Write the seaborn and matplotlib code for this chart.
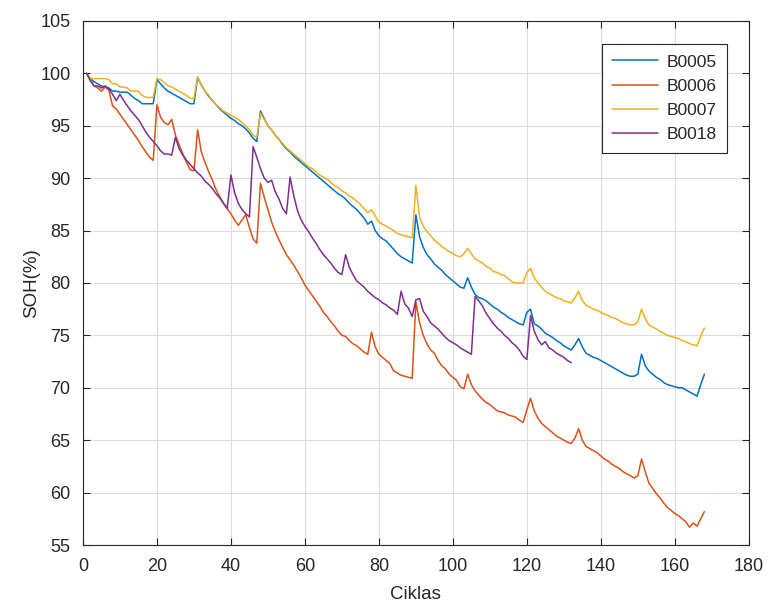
import numpy as np
import pandas as pd
import matplotlib
matplotlib.use("Agg")
import matplotlib.pyplot as plt
import seaborn as sns

# State of health (%) per charge/discharge cycle for four Li-ion cells
soh_b0005 = [
    100.0, 99.5, 99.2, 99.0, 98.8, 98.7, 98.6, 98.3, 98.3, 98.2,
    98.2, 98.2, 97.9, 97.6, 97.4, 97.1, 97.1, 97.1, 97.1, 99.4,
    99.0, 98.6, 98.3, 98.1, 97.9, 97.7, 97.5, 97.3, 97.1, 97.1,
    99.6, 98.9, 98.3, 97.8, 97.4, 97.0, 96.6, 96.3, 96.0, 95.7,
    95.5, 95.2, 95.0, 94.7, 94.3, 93.8, 93.5, 96.4, 95.7, 95.0,
    94.6, 94.1, 93.7, 93.2, 92.8, 92.5, 92.1, 91.8, 91.5, 91.2,
    90.9, 90.6, 90.3, 90.0, 89.7, 89.4, 89.1, 88.8, 88.5, 88.3,
    88.0, 87.6, 87.3, 87.0, 86.6, 86.2, 85.6, 85.9, 85.0, 84.5,
    84.2, 84.0, 83.6, 83.2, 82.8, 82.5, 82.3, 82.1, 81.9, 86.5,
    84.4, 83.4, 82.7, 82.3, 81.8, 81.5, 81.2, 80.8, 80.5, 80.2,
    79.9, 79.6, 79.5, 80.5, 79.6, 78.9, 78.6, 78.5, 78.3, 78.0,
    77.7, 77.5, 77.2, 77.0, 76.7, 76.5, 76.3, 76.1, 76.0, 77.2,
    77.5, 76.1, 75.9, 75.6, 75.2, 75.0, 74.8, 74.5, 74.3, 74.0,
    73.8, 73.6, 74.1, 74.7, 73.9, 73.3, 73.1, 72.9, 72.8, 72.6,
    72.4, 72.2, 72.0, 71.8, 71.6, 71.4, 71.2, 71.1, 71.1, 71.3,
    73.2, 72.1, 71.6, 71.3, 71.0, 70.8, 70.5, 70.3, 70.2, 70.1,
    70.0, 70.0, 69.8, 69.6, 69.4, 69.2, 70.3, 71.3,
]

soh_b0006 = [
    100.0, 99.4, 98.8, 98.6, 98.3, 98.7, 98.4, 96.9, 96.6, 96.1,
    95.6, 95.1, 94.6, 94.1, 93.6, 93.0, 92.5, 92.0, 91.7, 97.0,
    95.8, 95.3, 95.1, 95.6, 94.1, 93.2, 92.3, 91.5, 90.8, 90.7,
    94.6, 92.5, 91.5, 90.6, 89.8, 88.9, 88.2, 87.6, 87.1, 86.6,
    86.0, 85.5, 86.0, 86.5, 85.3, 84.2, 83.8, 89.5, 88.2, 87.0,
    85.8, 84.9, 84.1, 83.4, 82.7, 82.2, 81.7, 81.1, 80.5, 79.8,
    79.3, 78.8, 78.3, 77.8, 77.2, 76.8, 76.3, 75.9, 75.4, 75.0,
    74.9, 74.5, 74.2, 74.0, 73.7, 73.4, 73.2, 75.3, 73.9, 73.2,
    72.9, 72.6, 72.3, 71.6, 71.4, 71.2, 71.1, 71.0, 70.9, 78.2,
    76.2, 75.0, 74.2, 73.6, 73.3, 72.6, 72.1, 71.8, 71.3, 71.0,
    70.7, 70.1, 69.9, 71.3, 70.3, 69.7, 69.3, 68.9, 68.6, 68.4,
    68.1, 67.8, 67.7, 67.6, 67.4, 67.3, 67.2, 66.9, 66.7, 67.9,
    69.0, 67.8, 67.1, 66.6, 66.3, 66.0, 65.7, 65.4, 65.2, 65.0,
    64.8, 64.7, 65.2, 66.1, 65.0, 64.4, 64.2, 64.0, 63.8, 63.5,
    63.2, 63.0, 62.7, 62.5, 62.3, 62.0, 61.8, 61.6, 61.4, 61.6,
    63.2, 62.0, 60.9, 60.4, 59.9, 59.5, 59.0, 58.6, 58.3, 58.0,
    57.8, 57.5, 57.2, 56.7, 57.1, 56.8, 57.5, 58.2,
]

soh_b0007 = [
    100.0, 99.5, 99.5, 99.5, 99.5, 99.5, 99.4, 99.0, 99.0, 98.7,
    98.7, 98.6, 98.3, 98.3, 98.3, 97.9, 97.7, 97.7, 97.7, 99.5,
    99.4, 99.1, 98.8, 98.7, 98.5, 98.3, 98.1, 97.9, 97.6, 97.6,
    99.7, 98.9, 98.3, 97.9, 97.4, 97.0, 96.7, 96.4, 96.2, 96.0,
    95.8, 95.6, 95.3, 95.0, 94.6, 94.1, 93.9, 96.2, 95.6, 95.0,
    94.6, 94.1, 93.7, 93.3, 92.9, 92.6, 92.3, 92.0, 91.7, 91.4,
    91.1, 90.9, 90.6, 90.3, 90.1, 89.9, 89.6, 89.3, 89.1, 88.8,
    88.6, 88.3, 88.1, 87.8, 87.5, 87.1, 86.7, 87.0, 86.4, 85.8,
    85.6, 85.4, 85.2, 85.0, 84.7, 84.6, 84.5, 84.4, 84.3, 89.3,
    86.3, 85.4, 84.9, 84.5, 84.1, 83.8, 83.5, 83.2, 83.0, 82.8,
    82.6, 82.5, 82.8, 83.3, 82.8, 82.3, 82.1, 81.9, 81.6, 81.4,
    81.1, 81.0, 80.8, 80.7, 80.4, 80.1, 80.0, 80.0, 80.0, 81.0,
    81.4, 80.5, 80.0, 79.6, 79.2, 79.0, 78.8, 78.6, 78.5, 78.3,
    78.2, 78.1, 78.6, 79.2, 78.3, 77.9, 77.7, 77.5, 77.4, 77.2,
    77.0, 76.9, 76.7, 76.6, 76.4, 76.2, 76.1, 76.0, 76.0, 76.3,
    77.5, 76.6, 76.0, 75.8, 75.6, 75.4, 75.2, 75.0, 74.9, 74.8,
    74.7, 74.5, 74.4, 74.2, 74.1, 74.0, 74.9, 75.7,
]

soh_b0018 = [
    100.0, 99.3, 98.8, 98.8, 98.6, 98.8, 98.5, 98.0, 97.4, 98.0,
    97.4, 96.9, 96.4, 96.0, 95.6, 95.0, 94.4, 93.9, 93.5, 93.1,
    92.6, 92.3, 92.3, 92.2, 93.9, 92.8, 92.2, 91.7, 91.3, 90.9,
    90.5, 90.2, 89.7, 89.4, 89.0, 88.5, 88.1, 87.6, 87.1, 90.3,
    88.6, 87.6, 87.0, 86.6, 86.3, 93.0, 92.0, 90.9, 90.0, 89.6,
    89.8, 88.7, 88.0, 87.1, 86.6, 90.1, 88.3, 86.9, 86.0, 85.4,
    84.9, 84.3, 83.8, 83.2, 82.7, 82.3, 81.9, 81.4, 81.0, 80.8,
    82.7, 81.5, 80.8, 80.2, 79.9, 79.6, 79.2, 78.9, 78.6, 78.4,
    78.1, 77.9, 77.6, 77.4, 77.0, 79.2, 78.0, 77.6, 76.8, 78.4,
    78.5, 77.3, 76.8, 76.2, 75.9, 75.6, 75.2, 74.8, 74.5, 74.3,
    74.1, 73.8, 73.6, 73.4, 73.2, 78.7, 78.3, 77.8, 77.1, 76.6,
    76.1, 75.7, 75.4, 75.0, 74.7, 74.3, 74.0, 73.6, 73.0, 72.7,
    76.9, 75.4, 74.6, 74.1, 74.4, 73.8, 73.6, 73.3, 73.1, 72.9,
    72.6, 72.4,
]

batteries = ["B0005", "B0006", "B0007", "B0018"]
series = [soh_b0005, soh_b0006, soh_b0007, soh_b0018]
colors = ["#0072BD", "#D95319", "#EDB120", "#7E2F8E"]

frames = []
for name, vals in zip(batteries, series):
    frames.append(pd.DataFrame({
        "Ciklas": np.arange(1, len(vals) + 1),
        "SOH": vals,
        "Baterija": name,
    }))
df = pd.concat(frames, ignore_index=True)

sns.set_theme(style="white")
plt.rcParams["font.family"] = ["Liberation Sans", "DejaVu Sans"]

fig = plt.figure(figsize=(7.68, 6.08), dpi=100)
ax = fig.add_axes([0.108, 0.1036, 0.867, 0.862])

sns.lineplot(data=df, x="Ciklas", y="SOH", hue="Baterija",
             palette=dict(zip(batteries, colors)), linewidth=1.1,
             ax=ax, legend=True)

ax.set_xlim(0, 180)
ax.set_ylim(55, 105)
ax.set_xticks(np.arange(0, 181, 20))
ax.set_yticks(np.arange(55, 106, 5))
ax.grid(True, color="#dcdcdc", linewidth=0.8)
ax.set_axisbelow(True)
for sp in ax.spines.values():
    sp.set_color("#262626")
    sp.set_linewidth(0.8)
ax.tick_params(direction="in", length=5, width=0.8, color="#262626",
               labelsize=13, labelcolor="#262626",
               top=True, right=True, bottom=True, left=True)
ax.tick_params(axis="x", pad=9)
ax.tick_params(axis="y", pad=9)
ax.set_xlabel("Ciklas", fontsize=13.5, color="#262626", labelpad=8)
ax.set_ylabel("SOH(%)", fontsize=13.5, color="#262626", labelpad=0)

leg = ax.legend(loc="upper right", bbox_to_anchor=(0.967, 0.956),
                borderaxespad=0, fontsize=12.5, frameon=True,
                fancybox=False, edgecolor="#262626", framealpha=1,
                handlelength=2.6, labelspacing=0.52, borderpad=0.6,
                handletextpad=0.5)
leg.get_frame().set_linewidth(0.8)

fig.savefig("out.png", dpi=100, facecolor="white")
